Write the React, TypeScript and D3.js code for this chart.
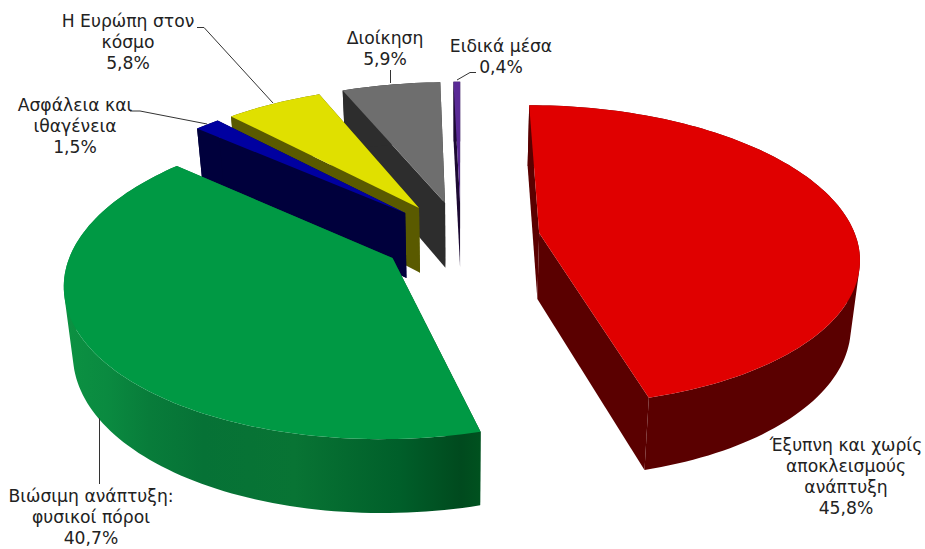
import React from "react";
import * as d3 from "d3";

// Budget shares by heading
const categories = [
  "Έξυπνη και χωρίς αποκλεισμούς ανάπτυξη",
  "Βιώσιμη ανάπτυξη: φυσικοί πόροι",
  "Ασφάλεια και ιθαγένεια",
  "Η Ευρώπη στον κόσμο",
  "Διοίκηση",
  "Ειδικά μέσα",
];
const shares = [45.8, 40.7, 1.5, 5.8, 5.9, 0.4];
const topColors = ["#e00000", "#009944", "#0000a0", "#e0e000", "#6e6e6e", "#5a2a96"];
const wallColors = ["#5a0000", "url(#greenWall)", "#00003c", "#5a5a00", "#2d2d2d", "#1c0a33"];
const paintOrder = [5, 4, 3, 2, 0, 1];

const labelLines = [
  ["Έξυπνη και χωρίς", "αποκλεισμούς", "ανάπτυξη"],
  ["Βιώσιμη ανάπτυξη:", "φυσικοί πόροι"],
  ["Ασφάλεια και", "ιθαγένεια"],
  ["Η Ευρώπη στον", "κόσμο"],
  ["Διοίκηση"],
  ["Ειδικά μέσα"],
];
const labelAnchors = [
  [846, 451],
  [91, 502],
  [75, 111],
  [128, 27],
  [385, 44],
  [501, 52],
];
const leaders = [
  null,
  [[99.5, 418], [99.5, 484]],
  [[130, 111], [140, 111], [207, 124]],
  [[197, 27.5], [204, 27.5], [273, 103]],
  [[390.5, 70], [390.5, 83]],
  [[457, 80], [470, 72.5], [476, 72.5]],
];

const W = 925;
const H = 549;
const CX = 461;
const CY = 238;
const RX = 317;
const RY = 148;
const EXPLODE = 0.25;
const PERSP = 0.147;
const DEPTH = 66;
const NARROW = 0.023;

const xScale = d3.scaleLinear().domain([-1, 1]).range([CX - RX, CX + RX]);
const yScale = d3.scaleLinear().domain([-1, 1]).range([CY - RY, CY + RY]);

// Perspective projection of a point on the pie plane; z runs 0 (top) to 1 (base)
function project(wx: number, wy: number, z: number): [number, number] {
  const s = 1 / (1 - PERSP * wy);
  const narrow = 1 - NARROW * z;
  return [
    CX + (xScale(wx) - CX) * s * narrow,
    yScale(wy * s) + DEPTH * z * (0.4 + 0.6 * s),
  ];
}

const pathOf = d3.line<[number, number]>();
const arcs = d3.pie<number>().sort(null)(shares);

// The outer wall as one path of quads, all wound the same way so that folds fill solidly
function wallQuads(rim: [number, number][]): string {
  const parts: string[] = [];
  for (let i = 0; i < rim.length - 1; i++) {
    const a = rim[i];
    const b = rim[i + 1];
    const quad: [number, number][] = [
      project(a[0], a[1], 0),
      project(b[0], b[1], 0),
      project(b[0], b[1], 1),
      project(a[0], a[1], 1),
    ];
    if (d3.polygonArea(quad) < 0) quad.reverse();
    parts.push(pathOf(quad) + "Z");
  }
  return parts.join("");
}

function App() {
  const slices = arcs.map((a) => {
    const mid = (a.startAngle + a.endAngle) / 2;
    const ax = EXPLODE * Math.sin(mid);
    const ay = -EXPLODE * Math.cos(mid);
    const n = Math.max(2, Math.ceil((a.endAngle - a.startAngle) * 40));
    const rim = d3.range(n + 1).map((i) => {
      const t = a.startAngle + ((a.endAngle - a.startAngle) * i) / n;
      return [ax + Math.sin(t), ay - Math.cos(t)] as [number, number];
    });
    const up = (p: [number, number]) => project(p[0], p[1], 0);
    const down = (p: [number, number]) => project(p[0], p[1], 1);
    const apex: [number, number] = [ax, ay];
    const first = rim[0];
    const last = rim[rim.length - 1];
    return {
      top: pathOf([up(apex), ...rim.map(up)]) + "Z",
      wallStart: pathOf([up(apex), up(first), down(first), down(apex)]) + "Z",
      wallEnd: pathOf([up(apex), up(last), down(last), down(apex)]) + "Z",
      wallRim: wallQuads(rim),
    };
  });

  return (
    <svg
      width={W}
      height={H}
      viewBox={`0 0 ${W} ${H}`}
      style={{ position: "absolute", left: 0, top: 0, background: "#fff", display: "block" }}
    >
      <defs>
        <linearGradient id="greenWall" gradientUnits="userSpaceOnUse" x1={66} x2={482} y1={0} y2={0}>
          <stop offset="0" stopColor="#0c9142" />
          <stop offset="0.1" stopColor="#0a8a40" />
          <stop offset="0.2" stopColor="#087c3a" />
          <stop offset="0.33" stopColor="#067236" />
          <stop offset="0.55" stopColor="#087434" />
          <stop offset="0.8" stopColor="#005f2a" />
          <stop offset="0.95" stopColor="#004a1e" />
          <stop offset="1" stopColor="#00521f" />
        </linearGradient>
      </defs>
      {paintOrder.map((i) => (
        <g key={categories[i]}>
          <path d={slices[i].wallStart} fill={wallColors[i]} />
          <path d={slices[i].wallEnd} fill={wallColors[i]} />
          <path d={slices[i].wallRim} fill={wallColors[i]} />
          <path d={slices[i].top} fill={topColors[i]} />
        </g>
      ))}
      {leaders.map((pts, i) =>
        pts ? (
          <path
            key={i}
            d={pathOf(pts as [number, number][]) ?? ""}
            fill="none"
            stroke="#333"
            strokeWidth={1}
          />
        ) : null
      )}
      {categories.map((c, i) => (
        <text
          key={c}
          x={labelAnchors[i][0]}
          y={labelAnchors[i][1]}
          textAnchor="middle"
          fontFamily="'DejaVu Sans', Verdana, sans-serif"
          fontSize={17.2}
          fill="#222"
        >
          {labelLines[i].map((line, j) => (
            <tspan key={j} x={labelAnchors[i][0]} dy={j === 0 ? 0 : 21}>
              {line}
            </tspan>
          ))}
          <tspan x={labelAnchors[i][0]} dy={labelLines[i].length ? 21 : 0}>
            {`${shares[i].toFixed(1).replace(".", ",")}%`}
          </tspan>
        </text>
      ))}
    </svg>
  );
}

export default App;
